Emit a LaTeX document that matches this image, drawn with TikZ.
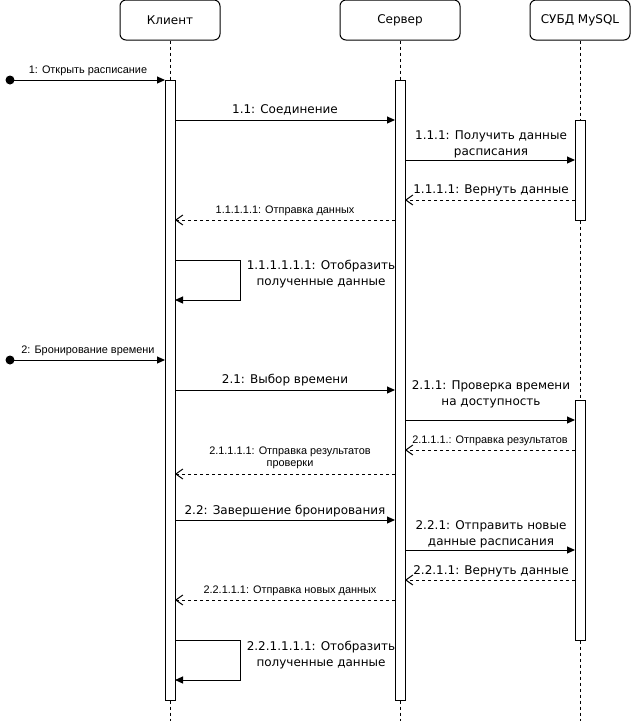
\documentclass[tikz,border=0pt]{standalone}
\usepackage{fontspec}
\setmainfont{DejaVu Sans}
\newfontfamily\smallf{Liberation Sans}
\usetikzlibrary{arrows.meta}
\begin{document}
\begin{tikzpicture}[x=1pt,y=-1pt,line width=1pt,
  part/.style={draw, rounded corners=6pt, minimum height=40pt, inner sep=0, font=\fontsize{12}{16}\selectfont},
  lifeline/.style={dash pattern=on 3pt off 3pt},
  bar/.style={draw, fill=white, minimum width=10pt, inner sep=0},
  dot/.style={circle, fill=black, inner sep=0, minimum size=9pt},
  msg/.style={-{Triangle[length=8pt,width=7pt]}},
  ret/.style={dash pattern=on 3pt off 3pt, -{Straight Barb[length=7pt,width=10pt]}},
  big/.style={font=\fontsize{12}{16}\selectfont, inner sep=0, align=center},
  small/.style={font=\smallf\fontsize{10.9}{12.5}\selectfont, inner sep=0, align=center}]
\useasboundingbox (0,0) rectangle (631,721);

% participants
\node[part, minimum width=100pt] (client) at (170,20) {Клиент};
\node[part, minimum width=120pt] (server) at (400,20) {Сервер};
\node[part, minimum width=100pt] (db) at (580,20) {СУБД MySQL};

% lifelines
\coordinate (cend) at (170,721);
\coordinate (send) at (400,721);
\coordinate (dend) at (580,721);
\draw[lifeline] (client.south) -- (cend);
\draw[lifeline] (server.south) -- (send);
\draw[lifeline] (db.south) -- (dend);

% activation bars
\node[bar, minimum height=620pt] (cb) at (170,390) {};
\node[bar, minimum height=620pt] (sb) at (400,390) {};
\node[bar, minimum height=100pt] (db1) at (580,170) {};
\node[bar, minimum height=240pt] (db2) at (580,520) {};

% message end points
\coordinate (c1) at (165,80);
\coordinate (c11) at (175,120);   \coordinate (s11) at (395,120);
\coordinate (s111) at (405,160);  \coordinate (d111) at (575,160);
\coordinate (d1111) at (575,200); \coordinate (s1111) at (405,200);
\coordinate (s11111) at (395,220);\coordinate (c11111) at (175,220);
\coordinate (cs1a) at (175,260);  \coordinate (cs1b) at (240,260);
\coordinate (cs1c) at (240,300);  \coordinate (cs1d) at (175,300);
\coordinate (c2) at (165,360);
\coordinate (c21) at (175,390);   \coordinate (s21) at (395,390);
\coordinate (s211) at (405,420);  \coordinate (d211) at (575,420);
\coordinate (d2111) at (575,450); \coordinate (s2111) at (405,450);
\coordinate (s21111) at (395,474);\coordinate (c21111) at (175,474);
\coordinate (c22) at (175,520);   \coordinate (s22) at (395,520);
\coordinate (s221) at (405,550);  \coordinate (d221) at (575,550);
\coordinate (d2211) at (575,580); \coordinate (s2211) at (405,580);
\coordinate (s22111) at (395,600);\coordinate (c22111) at (175,600);
\coordinate (cs2a) at (175,640);  \coordinate (cs2b) at (240,640);
\coordinate (cs2c) at (240,680);  \coordinate (cs2d) at (175,680);

% start dots
\node[dot] (start1) at (10,80) {};
\node[dot] (start2) at (10,360) {};

% messages
\draw[msg] (start1.center) -- (c1);
\draw[msg] (c11) -- (s11);
\draw[msg] (s111) -- (d111);
\draw[ret] (d1111) -- (s1111);
\draw[ret] (s11111) -- (c11111);
\draw[msg] (cs1a) -- (cs1b) -- (cs1c) -- (cs1d);
\draw[msg] (start2.center) -- (c2);
\draw[msg] (c21) -- (s21);
\draw[msg] (s211) -- (d211);
\draw[ret] (d2111) -- (s2111);
\draw[ret] (s21111) -- (c21111);
\draw[msg] (c22) -- (s22);
\draw[msg] (s221) -- (d221);
\draw[ret] (d2211) -- (s2211);
\draw[ret] (s22111) -- (c22111);
\draw[msg] (cs2a) -- (cs2b) -- (cs2c) -- (cs2d);

% labels
\node[small] (l1) at (88,71) {1: Открыть расписание};
\node[big] (l11) at (285,110) {1.1: Соединение};
\node[big] (l111) at (491,144) {1.1.1: Получить данные\\расписания};
\node[big] (l1111) at (491,190) {1.1.1.1: Вернуть данные};
\node[small] (l11111) at (285,211) {1.1.1.1.1: Отправка данных};
\node[big] (ls1) at (321,274) {1.1.1.1.1.1: Отобразить\\полученные данные};
\node[small] (l2) at (88,351) {2: Бронирование времени};
\node[big] (l21) at (285,380) {2.1: Выбор времени};
\node[big] (l211) at (491,394) {2.1.1: Проверка времени\\на доступность};
\node[small] (l2111) at (490,441) {2.1.1.1.: Отправка результатов};
\node[small] (l21111) at (290,458) {2.1.1.1.1: Отправка результатов\\проверки};
\node[big] (l22) at (285,511) {2.2: Завершение бронирования};
\node[big] (l221) at (491,534) {2.2.1: Отправить новые\\данные расписания};
\node[big] (l2211) at (491,571) {2.2.1.1: Вернуть данные};
\node[small] (l22111) at (290,591) {2.2.1.1.1: Отправка новых данных};
\node[big] (ls2) at (321,655) {2.2.1.1.1.1: Отобразить\\полученные данные};
\end{tikzpicture}
\end{document}
